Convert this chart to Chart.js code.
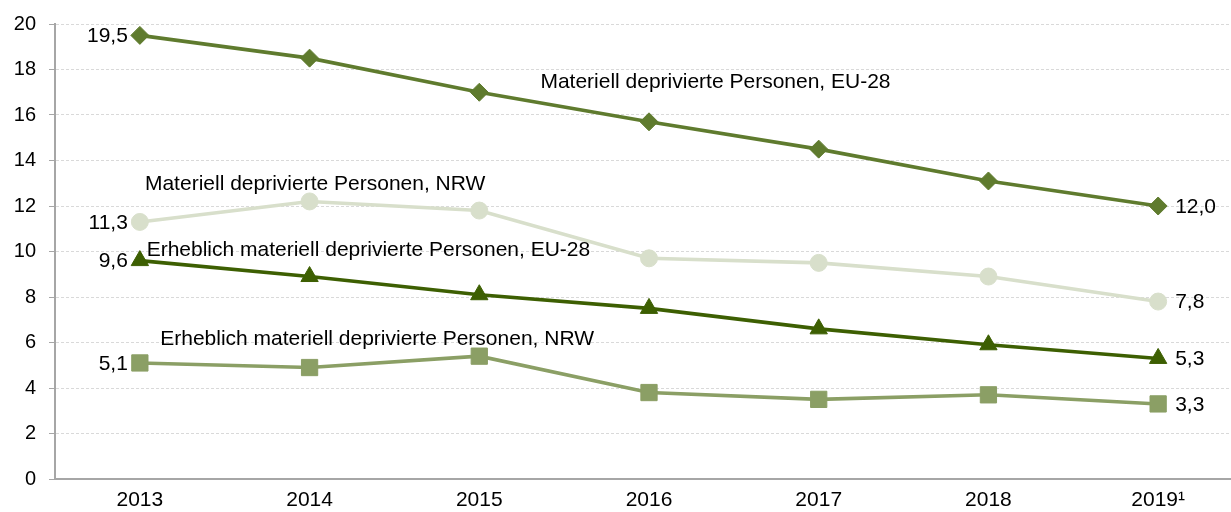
<!DOCTYPE html>
<html>
<head>
<meta charset="utf-8">
<script src="https://cdn.jsdelivr.net/npm/chart.js@4.4.1/dist/chart.umd.min.js"></script>
<style>
  html, body { margin: 0; padding: 0; background: #fff; overflow: hidden; }
  #wrap { width: 1231px; height: 512px; overflow: hidden; position: relative; }
  #c { position: absolute; left: 0; top: 0; }
</style>
</head>
<body>
<div id="wrap"><canvas id="c" width="1244" height="512" style="width:1244px;height:512px"></canvas></div>
<script>
const categories = ['2013', '2014', '2015', '2016', '2017', '2018', '2019¹'];
const materiellEU = [19.5, 18.5, 17.0, 15.7, 14.5, 13.1, 12.0];
const materiellNRW = [11.3, 12.2, 11.8, 9.7, 9.5, 8.9, 7.8];
const erheblichEU = [9.6, 8.9, 8.1, 7.5, 6.6, 5.9, 5.3];
const erheblichNRW = [5.1, 4.9, 5.4, 3.8, 3.5, 3.7, 3.3];
const yTicks = [0, 2, 4, 6, 8, 10, 12, 14, 16, 18, 20];
const seriesNames = [
  'Materiell deprivierte Personen, EU-28',
  'Materiell deprivierte Personen, NRW',
  'Erheblich materiell deprivierte Personen, EU-28',
  'Erheblich materiell deprivierte Personen, NRW'
];
// name label anchors in data units: [category index, value]
const nameAnchors = [[2.36, 17.45], [0.03, 12.97], [0.04, 10.07], [0.12, 6.15]];

const FONT = 'Liberation Sans, Arial, sans-serif';
const FS = 21;

function fmt(v) { return v.toFixed(1).replace('.', ','); }

const labelPlugin = {
  id: 'labels',
  afterDatasetsDraw(chart) {
    const ctx = chart.ctx;
    const xs = chart.scales.x, ys = chart.scales.y;
    ctx.save();
    ctx.font = FS + 'px ' + FONT;
    ctx.fillStyle = '#000';
    ctx.textBaseline = 'middle';
    chart.data.datasets.forEach((ds, i) => {
      const d = ds.data;
      const last = d.length - 1;
      ctx.textAlign = 'right';
      ctx.fillText(fmt(d[0]), xs.getPixelForValue(0) - 12, ys.getPixelForValue(d[0]) + 1);
      ctx.textAlign = 'left';
      ctx.fillText(fmt(d[last]), xs.getPixelForValue(last) + 17, ys.getPixelForValue(d[last]) + 1);
      const [ix, v] = nameAnchors[i];
      const x0 = xs.getPixelForValue(0), x1 = xs.getPixelForValue(1);
      ctx.fillText(seriesNames[i], x0 + (x1 - x0) * ix, ys.getPixelForValue(v));
    });
    ctx.restore();
  }
};

const mk = (label, data, color, style, r) => ({
  label, data,
  borderColor: color, backgroundColor: color,
  pointBackgroundColor: color, pointBorderColor: color,
  borderWidth: 3.6, pointStyle: style, pointRadius: r, pointHoverRadius: r,
  pointBorderWidth: 1, tension: 0
});

new Chart(document.getElementById('c'), {
  type: 'line',
  data: {
    labels: categories,
    datasets: [
      mk(seriesNames[0], materiellEU, '#5f7b2e', 'rectRot', 9),
      mk(seriesNames[1], materiellNRW, '#d8dfcb', 'circle', 8.5),
      mk(seriesNames[2], erheblichEU, '#3d5f02', 'triangle', 10),
      mk(seriesNames[3], erheblichNRW, '#8b9f65', 'rect', 11.5)
    ]
  },
  options: {
    responsive: false,
    animation: false,
    layout: { autoPadding: false, padding: { top: 24, right: 1, left: 0, bottom: 0 } },
    plugins: { legend: { display: false }, tooltip: { enabled: false } },
    scales: {
      x: {
        offset: true,
        grid: { display: false, drawTicks: false },
        border: { color: '#a6a6a6', width: 2 },
        ticks: { color: '#000', font: { family: FONT, size: FS }, padding: 9, maxRotation: 0 },
        afterFit(s) { s.height = 33; s.paddingLeft = 0; s.paddingRight = 0; }
      },
      y: {
        min: 0, max: 20,
        afterBuildTicks(s) { s.ticks = yTicks.map(v => ({ value: v })); },
        ticks: { color: '#000', font: { family: FONT, size: 20 }, padding: 13 },
        grid: { color: '#d9d9d9', lineWidth: 1, tickLength: 6, tickColor: '#a6a6a6', tickBorderDash: [] },
        border: { color: '#a6a6a6', width: 2, dash: [3, 2] },
        afterFit(s) { s.width = 55; s.paddingTop = 0; s.paddingBottom = 0; }
      }
    }
  },
  plugins: [labelPlugin]
});
</script>
</body>
</html>
